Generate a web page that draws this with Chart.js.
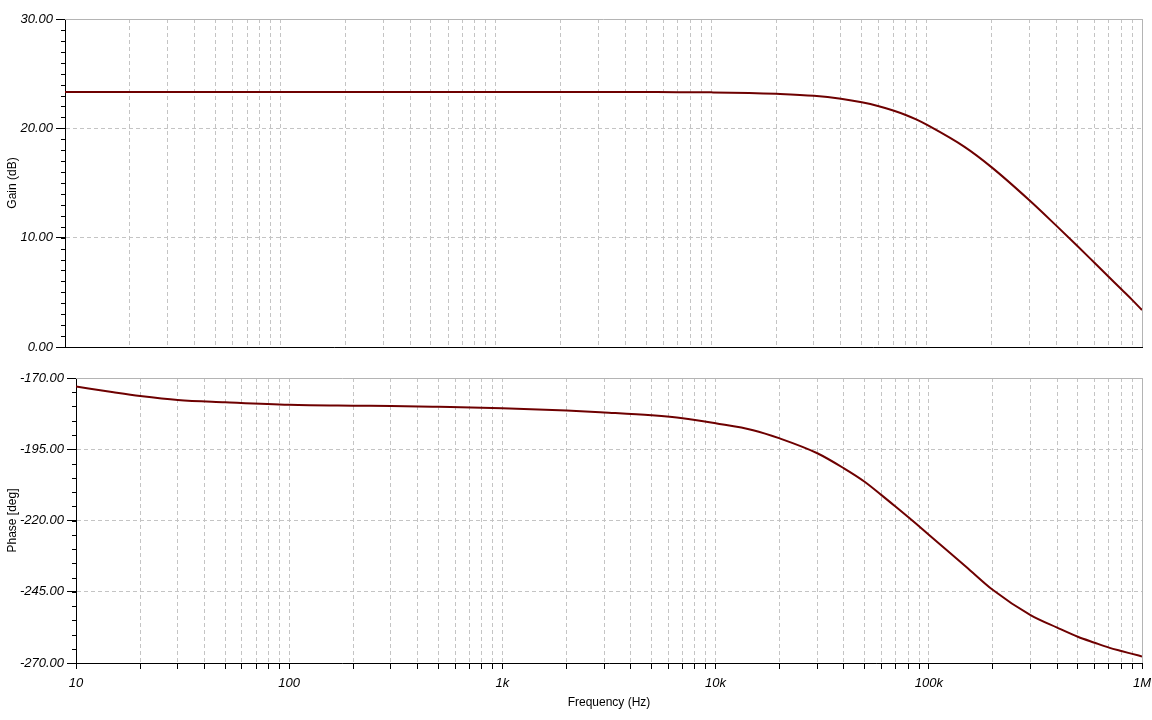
<!DOCTYPE html>
<html>
<head>
<meta charset="utf-8">
<script src="https://cdn.jsdelivr.net/npm/chart.js@4"></script>
<style>
  html, body { margin: 0; padding: 0; background: #fff; }
  #wrap { position: relative; width: 1152px; height: 720px; }
  .pane { position: absolute; left: 0; width: 1152px; height: 360px; }
  #gainPane { top: 0; }
  #phasePane { top: 360px; }
</style>
</head>
<body>
<div id="wrap">
  <div class="pane" id="gainPane"><canvas id="gainChart"></canvas></div>
  <div class="pane" id="phasePane"><canvas id="phaseChart"></canvas></div>
</div>
<script>
// frequency points (Hz) and values
const freqs = [10, 15, 20, 30, 50, 100, 200, 300, 500, 1000, 2000, 3000, 5000, 7000,
  10000, 15000, 20000, 30000, 40000, 50000, 60000, 70000, 80000, 90000,
  100000, 150000, 200000, 300000, 400000, 500000, 600000, 700000, 800000, 900000, 1000000];
const gainDb = [23.33, 23.33, 23.33, 23.33, 23.33, 23.33, 23.33, 23.33, 23.33, 23.33, 23.33, 23.33, 23.32, 23.31,
  23.29, 23.24, 23.16, 22.97, 22.70, 22.38, 22.02, 21.63, 21.22, 20.79,
  20.33, 18.30, 16.45, 13.42, 11.10, 9.26, 7.73, 6.43, 5.30, 4.31, 3.38];
const phaseDeg = [-173.0, -175.0, -176.3, -177.7, -178.5, -179.4, -179.7, -179.8, -180.1, -180.6, -181.4, -182.1, -183.1, -184.1,
  -185.9, -188.3, -191.2, -196.4, -201.7, -206.4, -211.1, -215.2, -218.8, -222.0,
  -225.0, -236.3, -244.4, -253.2, -257.6, -260.8, -262.9, -264.6, -265.8, -266.8, -267.7];

// x axis: tick marks at every 1..9 x decade, labels only on decades
const decadeValues = [10, 100, 1000, 10000, 100000, 1000000];
const decadeLabels = ['10', '100', '1k', '10k', '100k', '1M'];
const gainTicks = [0, 10, 20, 30];
const phaseTicks = [-270, -245, -220, -195, -170];

const xTickValues = [];
decadeValues.forEach(d => {
  for (let m = 1; m <= 9; m++) {
    if (d * m <= 1000000) xTickValues.push(d * m);
  }
});

const lineColor = '#6e0000';
const gridColor = '#c4c4c4';
const tickFont = { family: 'Liberation Sans, Arial', size: 13, style: 'italic' };
const titleFont = { family: 'Liberation Sans, Arial', size: 12 };

// gray frame on top/right + short minor ticks on the y axis
const framePlugin = {
  id: 'frame',
  afterDraw(chart, args, opts) {
    const { ctx, chartArea: a } = chart;
    const y = chart.scales.y;
    ctx.save();
    ctx.strokeStyle = '#b4b4b4';
    ctx.lineWidth = 1;
    ctx.beginPath();
    ctx.moveTo(a.left, a.top + 0.5);
    ctx.lineTo(a.right + 0.5, a.top + 0.5);
    ctx.lineTo(a.right + 0.5, a.bottom);
    ctx.stroke();
    ctx.strokeStyle = '#000';
    ctx.beginPath();
    for (let v = y.min; v <= y.max + 1e-9; v += opts.minorStep) {
      const py = Math.round(y.getPixelForValue(v)) + 0.5;
      ctx.moveTo(a.left - 4, py);
      ctx.lineTo(a.left, py);
    }
    ctx.stroke();
    ctx.restore();
  }
};

function makeChart(id, values, yTicks, yTitle, axisWidth, showX, minorStep) {
  return new Chart(document.getElementById(id), {
    type: 'line',
    data: {
      datasets: [{
        data: freqs.map((f, i) => ({ x: f, y: values[i] })),
        borderColor: lineColor,
        borderWidth: 2,
        pointRadius: 0,
        cubicInterpolationMode: 'monotone',
        fill: false
      }]
    },
    options: {
      responsive: true,
      maintainAspectRatio: false,
      animation: false,
      layout: { padding: { left: 0, right: 10, top: showX ? 18 : 19, bottom: 0 } },
      plugins: {
        legend: { display: false },
        tooltip: { enabled: false },
        frame: { minorStep: minorStep }
      },
      scales: {
        x: {
          type: 'logarithmic',
          min: 10,
          max: 1000000,
          afterBuildTicks: s => { s.ticks = xTickValues.map(v => ({ value: v })); },
          afterFit: s => {
            s.height = showX ? 57 : 13;
            // labels may overhang the plot; keep the plot edges fixed
            s.paddingLeft = 0;
            s.paddingRight = 0;
          },
          grid: {
            color: gridColor,
            drawTicks: showX,
            tickLength: 6,
            tickColor: '#000'
          },
          border: { color: '#000', width: 1, dash: [4, 3] },
          ticks: {
            display: showX,
            autoSkip: false,
            maxRotation: 0,
            padding: 7,
            color: '#000',
            font: tickFont,
            callback: v => {
              const k = decadeValues.indexOf(v);
              return k >= 0 ? decadeLabels[k] : '';
            }
          },
          title: {
            display: showX,
            text: 'Frequency (Hz)',
            color: '#000',
            font: titleFont,
            padding: { top: 0, bottom: 10 }
          }
        },
        y: {
          min: yTicks[0],
          max: yTicks[yTicks.length - 1],
          afterBuildTicks: s => { s.ticks = yTicks.map(v => ({ value: v })); },
          afterFit: s => { s.width = axisWidth; },
          grid: {
            color: gridColor,
            tickLength: 9,
            tickColor: '#000'
          },
          border: { color: '#000', width: 1, dash: [4, 3] },
          ticks: {
            padding: 3,
            color: '#000',
            font: tickFont,
            callback: v => v.toFixed(2)
          },
          title: {
            display: true,
            text: yTitle,
            color: '#000',
            font: titleFont,
            padding: { top: 5, bottom: 0 }
          }
        }
      }
    },
    plugins: [framePlugin]
  });
}

makeChart('gainChart', gainDb, gainTicks, 'Gain (dB)', 65, false, 1);
makeChart('phaseChart', phaseDeg, phaseTicks, 'Phase [deg]', 76, true, 5);
</script>
</body>
</html>
